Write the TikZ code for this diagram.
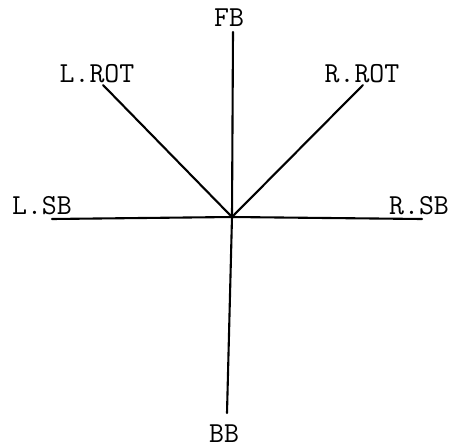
\documentclass[tikz,border=0pt]{standalone}
\begin{document}
\begin{tikzpicture}[x=1pt,y=-1pt,
  lbl/.style={font=\fontsize{29}{31}\selectfont\ttfamily, inner sep=0pt},
  axis/.style={line width=2.1pt, line cap=round}]
\useasboundingbox (0,0) rectangle (451,448);
\coordinate (c) at (232,217);
\coordinate (fbE) at (233,32);
\coordinate (bbE) at (227,413);
\coordinate (lsbE) at (52,219);
\coordinate (rsbE) at (422,219);
\coordinate (lrotE) at (103,85);
\coordinate (rrotE) at (363,85);
\node[lbl] (fb) at (229,18) {FB};
\node[lbl] (bb) at (224,434) {BB};
\node[lbl] (lsb) at (42,206) {L.SB};
\node[lbl] (rsb) at (419,206) {R.SB};
\node[lbl] (lrot) at (97,74) {L.ROT};
\node[lbl] (rrot) at (362,74) {R.ROT};
\draw[axis] (fbE) -- (c) -- (bbE);
\draw[axis] (lsbE) -- (c) -- (rsbE);
\draw[axis] (lrotE) -- (c) -- (rrotE);
\end{tikzpicture}
\end{document}
